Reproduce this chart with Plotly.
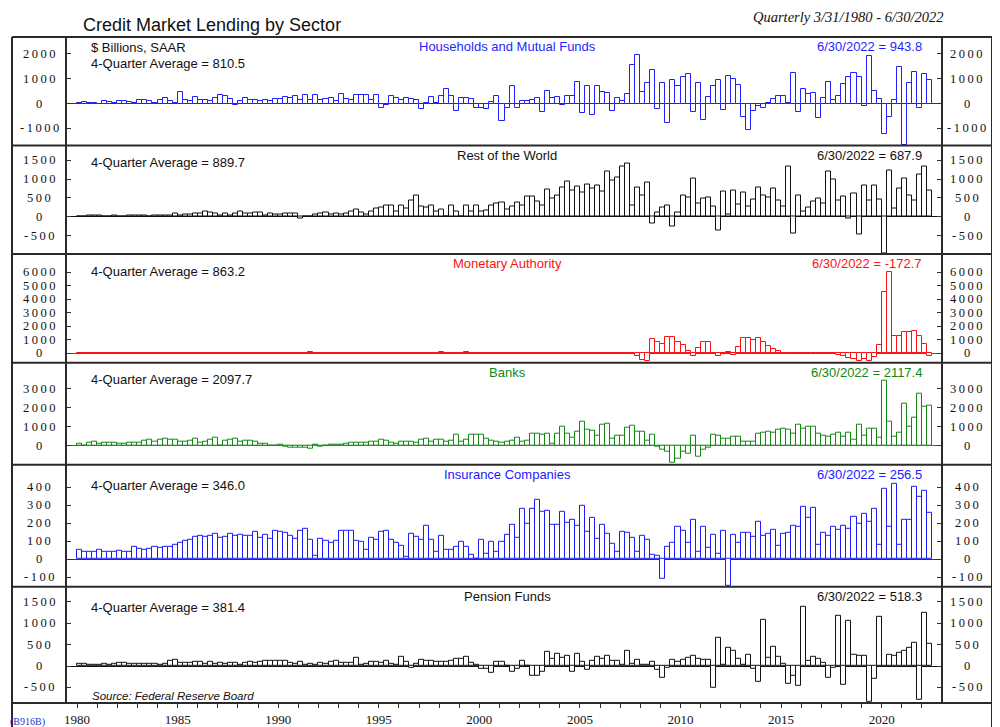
import plotly.graph_objects as go
import pandas as pd

# ---------------- data (quarterly, $ billions SAAR, 1980Q1 .. 2022Q2) ----------------
quarters = pd.period_range("1980Q1", "2022Q2", freq="Q")

households_mf = [
    25, 80, 40, 40, -25, 95, 55, 40, 110, 120,
    80, 40, 135, 135, 95, 40, 160, 215, 120, 15,
    460, 160, 120, 257, 160, 160, 120, 243, 340, 300,
    175, -40, 120, 215, 135, 135, 110, 160, 110, 190,
    190, 270, 215, 300, 160, 350, 160, 340, 160, 190,
    215, 120, 380, 200, 160, 340, 340, 340, 150, 340,
    -160, -40, 285, 215, 150, 230, 175, 150, -215, 40,
    270, 40, 285, 570, 300, -300, 230, 230, 200, -190,
    -190, -230, 80, 285, -715, -175, 690, -175, 95, 120,
    135, 215, -340, 490, 215, 257, -70, 300, 300, 880,
    -380, 690, -470, 690, 460, 405, -310, 230, 95, 365,
    1550, 1960, 460, 840, 1340, -200, 825, -780, 930, 690,
    1050, 1175, -340, 825, -660, 257, 715, 930, -270, 1095,
    985, 745, -555, -1070, -310, -110, -175, 20, 200, 300,
    300, 10, 1215, -340, 580, 365, 430, -595, 215, 865,
    160, 300, 785, 1070, 1245, 1070, -110, 1905, 490, 175,
    -1245, -555, 150, 1475, -1660, 825, 1285, -190, 1190, 943.8,
]

rest_of_world = [
    10, 18, 27, 36, 45, 0, 0, 36, 18, 18,
    36, 27, 27, 27, 18, 36, 45, 45, 27, 98,
    36, 62, 62, 98, 80, 150, 116, 80, 45, 80,
    45, 98, 150, 98, 90, 116, 116, 27, 98, 71,
    54, 98, 98, 98, -45, 18, 0, 54, 98, 125,
    71, 98, 62, 80, 143, 205, 116, 71, 143, 232,
    259, 295, 312, 134, 295, 232, 430, 553, 277, 259,
    304, 143, 205, 0, 295, 152, 0, 304, 152, 312,
    152, 160, 312, 340, 384, 205, 286, 375, 295, 527,
    536, 393, 312, 714, 473, 571, 768, 929, 705, 813,
    634, 848, 741, 839, 679, 1197, 955, 1054, 1330, 1420,
    295, 786, 553, 902, -179, 116, 250, 295, -250, 125,
    563, 518, 1009, 366, 482, 518, 277, -357, 670, 54,
    705, 321, 643, 286, 464, 777, 563, 500, 741, 420,
    286, 1330, -446, 571, 152, 259, 411, 473, 366, 1197,
    1000, 420, 527, -45, 607, -473, 839, 438, 822, 446,
    -964, 1232, 223, 759, 1018, 553, 429, 1116, 1330, 687.9,
]

monetary_authority = [
    20, 25, 30, 20, 25, 30, 25, 20, 30, 25,
    20, 30, 35, 25, 20, 30, 30, 25, 20, 25,
    30, 25, 25, 30, 20, 25, 30, 35, 25, 20,
    25, 20, 25, 30, 25, 20, 15, 25, 40, 30,
    20, 25, 30, 20, 25, 30, 60, 25, 20, 30,
    25, 20, 25, 30, 20, 25, 20, 25, 30, 25,
    20, 25, 30, 25, 30, 25, 20, 30, 25, 20,
    25, 30, 60, 35, 25, 30, 20, 55, 25, 30,
    50, 30, 25, 20, 25, 30, 20, 25, 50, 30,
    30, 50, 25, 30, 25, 20, 25, 30, 25, 20,
    25, 30, 20, 50, 25, 20, 30, 25, 20, 10,
    -50, -200, -490, -540, 1060, 815, 690, 1185, 1210, 815,
    640, 150, -170, 395, 865, 865, -50, -220, 0, 75,
    -100, 445, 1135, 1135, 1010, 1110, 815, 570, 295, 150,
    -25, 10, 15, 20, 10, -10, -20, 5, 50, 15,
    10, -100, -200, -370, -445, -590, -395, -590, -250, 590,
    4520, 5975, 1285, 1285, 1605, 1580, 1620, 1290, 715, -172.7,
]

banks = [
    90, 20, 175, 210, 90, 160, 140, 160, 120, 120,
    140, 175, 175, 280, 300, 210, 315, 370, 300, 300,
    190, 190, 265, 370, 140, 230, 300, 440, 20, 280,
    300, 370, 190, 265, 265, 210, 105, 105, 20, 20,
    70, -70, -90, -90, -105, -120, -175, 70, -50, 20,
    50, 50, 50, 120, 160, 140, 140, 160, 190, 230,
    315, 280, 140, 105, 190, 190, 190, 160, 315, 350,
    190, 300, 300, 190, 265, 580, 190, 300, 580, 600,
    560, 370, 265, 230, 175, 230, 265, 400, 230, 280,
    650, 650, 560, 650, 90, 650, 1020, 615, 400, 755,
    1265, 840, 790, 525, 1120, 1140, 350, 525, 525, 930,
    1050, 755, 755, 280, 580, -35, -190, -335, -895, -685,
    -300, -440, 525, -560, -190, -90, 580, 510, 385, 385,
    475, 475, 190, 230, 230, 615, 665, 735, 700, 860,
    875, 860, 615, 1090, 895, 1020, 1000, 630, 510, 475,
    560, 685, 455, 685, 335, 1120, 525, 910, 875, 400,
    3400, 1265, 490, 665, 2230, 980, 1490, 2720, 2070, 2117.4,
]

insurance = [
    50, 39, 44, 44, 50, 44, 43, 39, 48, 44,
    44, 72, 59, 52, 56, 72, 63, 72, 69, 83,
    94, 100, 109, 126, 128, 124, 131, 143, 122, 124,
    143, 130, 135, 130, 130, 150, 117, 137, 113, 157,
    150, 148, 130, 113, 157, 172, 109, 17, 113, 100,
    94, 100, 161, 156, 156, 102, 98, 50, 117, 107,
    152, 159, 106, 89, 76, 13, 141, 124, 109, 185,
    111, 41, 128, 50, 52, 67, 96, 70, 26, 2,
    109, 28, 96, 39, 98, 137, 189, 122, 278, 196,
    278, 330, 263, 270, 193, 193, 265, 204, 222, 187,
    298, 150, 228, 115, 193, 144, 87, 39, 150, 148,
    119, 44, 128, 109, 26, 17, -107, 69, 94, 183,
    156, 94, 219, 44, 180, 61, 137, 31, 161, -146,
    137, 89, 148, 148, 124, 209, 131, 139, 163, 74,
    144, 148, 187, 180, 294, 230, 287, 78, 148, 133,
    181, 165, 187, 169, 237, 196, 252, 207, 281, 80,
    389, 178, 422, 83, 217, 220, 402, 346, 383, 256.5,
]

pension = [
    55, 62, 39, 39, 39, 55, 39, 55, 78, 70,
    55, 55, 55, 55, 55, 55, 31, 62, 117, 140,
    78, 70, 70, 109, 101, 55, 101, 47, 86, 62,
    70, 78, 39, 70, 109, 78, 94, 117, 125, 125,
    117, 125, 78, 55, 94, 39, 62, 39, 86, 55,
    109, 117, 86, 78, 78, 187, 31, 47, 94, 101,
    78, 125, 55, 39, 219, 109, -39, 55, 148, 117,
    133, 94, 94, 94, 125, 172, 172, 219, 86, 31,
    -70, -62, -148, 101, 94, 5, -140, -55, 117, 8,
    -219, -234, -133, 344, 164, 289, 187, 242, -133, 281,
    109, -94, 117, 219, 164, 250, 133, 133, 39, 367,
    47, 148, 31, 31, 109, -78, -273, -31, 148, 109,
    148, 187, 242, 172, 156, 156, -500, 656, 31, 430,
    367, 180, 23, 266, -70, -367, 1086, 203, 461, 219,
    55, -406, -219, -469, 1398, 125, 219, 172, 86, -266,
    -31, 1180, -445, 1070, 266, 234, 234, -843, -289, 1156,
    -23, 273, 250, 312, 367, 430, 540, -780, 1247, 518.3,
]

panel_titles = ["Households and Mutual Funds", "Rest of the World", "Monetary Authority",
                "Banks", "Insurance Companies", "Pension Funds"]
avg_labels = ["810.5", "889.7", "863.2", "2097.7", "346.0", "381.4"]
last_labels = ["943.8", "687.9", "-172.7", "2117.4", "256.5", "518.3"]
series = [households_mf, rest_of_world, monetary_authority, banks, insurance, pension]
tick_sets = [
    [-1000, 0, 1000, 2000],
    [-500, 0, 500, 1000, 1500],
    [0, 1000, 2000, 3000, 4000, 5000, 6000],
    [0, 1000, 2000, 3000],
    [-100, 0, 100, 200, 300, 400],
    [-500, 0, 500, 1000, 1500],
]
year_ticks = list(range(1980, 2023))
year_text = [str(y) if y % 5 == 0 else "" for y in year_ticks]

# ---------------- styling ----------------
colors = ["#1f1fff", "#111111", "#ff1010", "#118811", "#1a1aff", "#111111"]
y_ranges = [[-1690, 2680], [-984, 1888], [-700, 7330], [-1005, 4370], [-153, 525], [-866, 1855]]
# panel pixel boundaries (top, bottom) in the 1000x727 page
panel_px = [(37, 145.5), (145.5, 254), (254, 362.7), (362.7, 464.8), (464.8, 586.8), (586.8, 703)]

# the page body has an 8px margin: the figure is drawn 8px right/down of the page origin
OFF = 8
W, H = 1000, 727
PLOT_L, PLOT_R, PLOT_T, PLOT_B = 66, 942, 37, 703
ML, MT = PLOT_L - OFF, PLOT_T - OFF
MR = W - (PLOT_R - OFF)
MB = H - (PLOT_B - OFF)
PW, PH = PLOT_R - PLOT_L, PLOT_B - PLOT_T


def px(x):
    return (x - PLOT_L) / PW


def py(y):
    return (PLOT_B - y) / PH


SANS = "Liberation Sans, Arial, sans-serif"
SERIF = "Liberation Serif, Times New Roman, serif"
THIN = "\u2009"

xdec = [q.year + (q.quarter - 1) * 0.25 + 0.125 for q in quarters]

fig = go.Figure()
layout = dict(
    width=W, height=H, autosize=False,
    margin=dict(l=ML, r=MR, t=MT, b=MB, pad=0, autoexpand=False),
    paper_bgcolor="white", plot_bgcolor="white",
    showlegend=False, bargap=0,
    xaxis=dict(range=[1979.45, 2023.0], anchor="y6", showgrid=False, zeroline=False,
               showline=False, ticks="outside", ticklen=4, tickcolor="#333",
               tickmode="array", tickvals=year_ticks, ticktext=year_text, automargin=False,
               tickfont=dict(family=SERIF, size=13, color="#111")),
)

annotations = []
for k in range(6):
    n = k + 1
    top, bot = panel_px[k]
    yname = "y" if n == 1 else f"y{n}"
    fig.add_trace(go.Bar(
        x=xdec, y=series[k], width=0.25, xaxis="x", yaxis=yname,
        marker=dict(color="white", line=dict(color=colors[k], width=1)),
        hoverinfo="x+y",
    ))
    rname = f"y{n + 6}"
    fig.add_trace(go.Scatter(x=[], y=[], xaxis="x", yaxis=rname, hoverinfo="skip"))
    common = dict(range=y_ranges[k], tickmode="array", tickvals=tick_sets[k],
                  ticks="inside", ticklen=5, tickcolor="#333", showgrid=False,
                  showline=False, showticklabels=False, automargin=False)
    layout["yaxis" if n == 1 else f"yaxis{n}"] = dict(
        domain=[py(bot), py(top)], anchor="x", zeroline=True,
        zerolinecolor=colors[k], zerolinewidth=1, **common)
    layout[f"yaxis{n + 6}"] = dict(
        overlaying=yname, side="right", anchor="x", zeroline=False, **common)

    # tick labels centred in the left and right gutters
    for v in tick_sets[k]:
        lab = THIN.join(str(v))
        for gx in (39, 967):
            annotations.append(dict(text=lab, x=px(gx), y=v, xref="paper", yref=yname,
                                    xanchor="center", yanchor="middle", showarrow=False,
                                    font=dict(family=SERIF, size=12.5, color="#111")))

    text_color = colors[k]
    annotations += [
        dict(text=panel_titles[k], x=px(507), y=py(top + 9.5), xanchor="center",
             yanchor="middle", font=dict(family=SANS, size=13, color=text_color)),
        dict(text=f"6/30/2022 = {last_labels[k]}", x=px(924), y=py(top + 9.5), xanchor="right",
             yanchor="middle", font=dict(family=SANS, size=13, color=text_color)),
    ]
    avg_y = top + (26.5 if k == 0 else (17 if k < 4 else 21))
    annotations.append(dict(text=f"4-Quarter Average = {avg_labels[k]}", x=px(89), y=py(avg_y),
                            xanchor="left", yanchor="middle",
                            font=dict(family=SANS, size=13, color="#111")))

annotations += [
    dict(text="$ Billions, SAAR", x=px(89), y=py(47), xanchor="left", yanchor="middle",
         font=dict(family=SANS, size=13, color="#111")),
    dict(text="Credit Market Lending by Sector", x=px(81), y=py(25), xanchor="left",
         yanchor="middle", font=dict(family=SANS, size=18, color="#111")),
    dict(text="<i>Quarterly 3/31/1980 - 6/30/2022</i>", x=px(946), y=py(16.5), xanchor="right",
         yanchor="middle", font=dict(family=SERIF, size=14.5, color="#111")),
    dict(text="<i>Source: Federal Reserve Board</i>", x=px(90), y=py(696), xanchor="left",
         yanchor="middle", font=dict(family=SANS, size=11.5, color="#111")),
    dict(text="(B916B)", x=px(8), y=py(722), xanchor="left", yanchor="middle",
         font=dict(family=SERIF, size=10, color="#2233cc")),
]
for a in annotations:
    a.setdefault("xref", "paper")
    a.setdefault("yref", "paper")
    a["showarrow"] = False
layout["annotations"] = annotations

line_style = dict(color="#2a2a2a", width=2)
shapes = []
for yb in [37, 145.5, 254, 362.7, 464.8, 586.8, 703]:
    shapes.append(dict(type="line", xref="paper", yref="paper", x0=px(12), x1=px(992),
                       y0=py(yb), y1=py(yb), line=line_style))
for xb in [66, 942]:
    shapes.append(dict(type="line", xref="paper", yref="paper", x0=px(xb), x1=px(xb),
                       y0=py(37), y1=py(703), line=line_style))
for xb in [12, 992]:
    shapes.append(dict(type="line", xref="paper", yref="paper", x0=px(xb), x1=px(xb),
                       y0=py(37), y1=py(730), line=line_style))
layout["shapes"] = shapes

fig.update_layout(**layout)
fig.write_html("out.html")
